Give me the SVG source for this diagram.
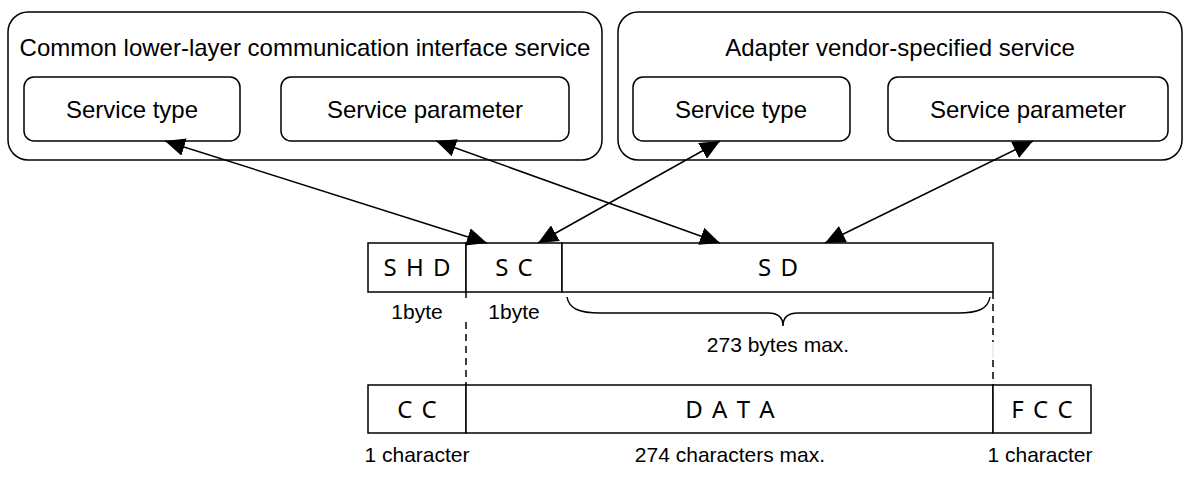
<svg xmlns="http://www.w3.org/2000/svg" width="1190" height="492" viewBox="0 0 1190 492">
<defs>
<marker id="ah" viewBox="0 0 20 18" refX="20" refY="9" markerWidth="20" markerHeight="18" markerUnits="userSpaceOnUse" orient="auto-start-reverse"><path d="M0,0 L20,9 L0,18 z" fill="#000"/></marker>
<style>
.box{fill:#fff;stroke:#000;stroke-width:1.5}
.outer{fill:#fff;stroke:#000;stroke-width:1.5}
.t{font-family:"Liberation Sans",Arial,sans-serif;font-size:24px;fill:#000;text-anchor:middle}
.lbl{font-family:"Liberation Sans",Arial,sans-serif;font-size:21px;fill:#000;text-anchor:middle}
.fld{font-family:"Noto Sans","DejaVu Sans",sans-serif;font-size:24px;fill:#000;text-anchor:middle;word-spacing:3px}
.conn{stroke:#000;stroke-width:1.5;fill:none}
.dash{stroke:#000;stroke-width:1.5;stroke-dasharray:7 5;fill:none}
</style>
</defs>
<rect width="1190" height="492" fill="#fff"/>
<g id="common-service">
<rect class="outer" x="8" y="12" width="594" height="148" rx="20"/>
<text class="t" x="305" y="56">Common lower-layer communication interface service</text>
</g>
<g id="common-service-type">
<rect class="box" x="24" y="77" width="216" height="64" rx="10"/>
<text class="t" x="132" y="118">Service type</text>
</g>
<g id="common-service-parameter">
<rect class="box" x="281" y="77" width="288" height="64" rx="10"/>
<text class="t" x="425" y="118">Service parameter</text>
</g>
<g id="vendor-service">
<rect class="outer" x="618" y="12" width="564" height="148" rx="20"/>
<text class="t" x="900" y="56">Adapter vendor-specified service</text>
</g>
<g id="vendor-service-type">
<rect class="box" x="633" y="77" width="217" height="64" rx="10"/>
<text class="t" x="741" y="118">Service type</text>
</g>
<g id="vendor-service-parameter">
<rect class="box" x="888" y="77" width="280" height="64" rx="10"/>
<text class="t" x="1028" y="118">Service parameter</text>
</g>
<g id="shd">
<rect class="box" x="368" y="243" width="98" height="49"/>
<text class="fld" x="417" y="276">S H D</text>
<text class="lbl" x="417" y="319">1byte</text>
</g>
<g id="sc">
<rect class="box" x="466" y="243" width="96" height="49"/>
<text class="fld" x="514" y="276">S C</text>
<text class="lbl" x="514" y="319">1byte</text>
</g>
<g id="sd">
<rect class="box" x="562" y="243" width="431" height="49"/>
<text class="fld" x="778" y="276">S D</text>
<path class="conn" d="M567,297 C569,309 580,313 600,313 L768,313 C778,313 783,318 783,326 C783,318 788,313 798,313 L958,313 C978,313 988,309 990,297"/>
<text class="lbl" x="778" y="352">273 bytes max.</text>
</g>
<g id="cc">
<rect class="box" x="368" y="385" width="98" height="48"/>
<text class="fld" x="417" y="418">C C</text>
<text class="lbl" x="417" y="462">1 character</text>
</g>
<g id="data">
<rect class="box" x="466" y="385" width="527" height="48"/>
<text class="fld" x="730" y="418">D A T A</text>
<text class="lbl" x="730" y="462">274 characters max.</text>
</g>
<g id="fcc">
<rect class="box" x="993" y="385" width="98" height="48"/>
<text class="fld" x="1042" y="418">F C C</text>
<text class="lbl" x="1040" y="462">1 character</text>
</g>
<g id="connectors">
<line class="conn" x1="165" y1="141" x2="487" y2="243" marker-start="url(#ah)" marker-end="url(#ah)"/>
<line class="conn" x1="436" y1="141" x2="720" y2="243" marker-start="url(#ah)" marker-end="url(#ah)"/>
<line class="conn" x1="720" y1="141" x2="538" y2="243" marker-start="url(#ah)" marker-end="url(#ah)"/>
<line class="conn" x1="1033" y1="141" x2="825" y2="243" marker-start="url(#ah)" marker-end="url(#ah)"/>
<line class="conn" x1="466" y1="292" x2="466" y2="298"/>
<line class="dash" x1="466" y1="322" x2="466" y2="385"/>
<line class="dash" x1="993" y1="292" x2="993" y2="342"/>
<line stroke="#ddd" stroke-width="1" x1="993" y1="342" x2="993" y2="358"/>
<line class="dash" x1="993" y1="360" x2="993" y2="385"/>
</g>
</svg>
